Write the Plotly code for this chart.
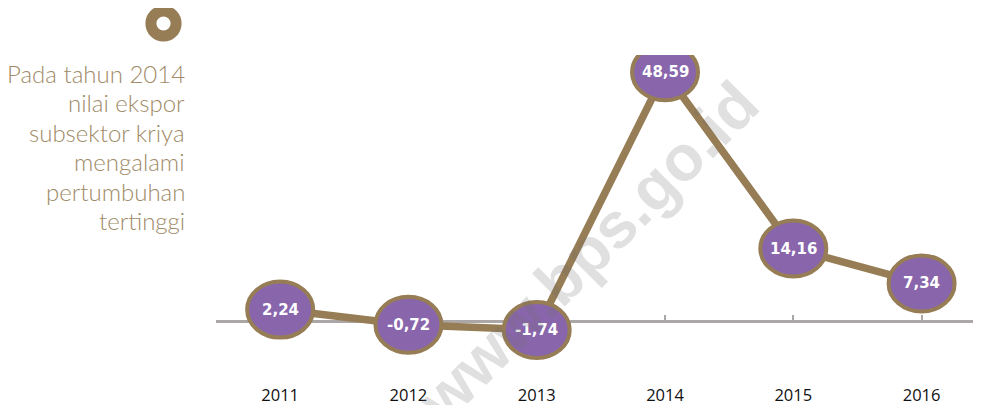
import plotly.graph_objects as go

# ---- data ----
years = ["2011", "2012", "2013", "2014", "2015", "2016"]
growth = [2.24, -0.72, -1.74, 48.59, 14.16, 7.34]
note_lines = ["Pada tahun 2014", "nilai ekspor", "subsektor kriya",
              "mengalami", "pertumbuhan", "tertinggi"]
watermark = "www.bps.go.id"

# ---- style / layout constants ----
OFF = 8                      # default page body margin
W, H = 981 - OFF, 405 - OFF  # figure fits the window
# desired plot area in window pixels
PL, PR, PT, PB = 216, 981, 55, 383
ML, MR, MT, MB = PL - OFF, W - (PR - OFF), PT - OFF, H - (PB - OFF)

BROWN = "#967D55"
PURPLE = "#8966AC"
GRAY = "#ABA7A7"
TEXT_BROWN = "#A08A67"

idx = list(range(len(years)))
x_range = [-0.5, 5.463]
y_range = [-12.1, 51.95]

plot_w = PR - PL
plot_h = PB - PT
px_per_x = plot_w / (x_range[1] - x_range[0])
px_per_y = plot_h / (y_range[1] - y_range[0])


def paper_x(px):
    return (px - PL) / plot_w


def paper_y(py):
    return (PB - py) / plot_h


fig = go.Figure()

# main brown line
fig.add_trace(go.Scatter(
    x=idx, y=growth, mode="lines",
    line=dict(color=BROWN, width=7.5),
    hoverinfo="skip", showlegend=False,
))
# invisible trace to activate the zero-line axis with ticks
fig.add_trace(go.Scatter(
    x=idx, y=growth, xaxis="x2", mode="lines",
    line=dict(width=0, color="rgba(0,0,0,0)"),
    hoverinfo="skip", showlegend=False,
))

shapes = []
annotations = []

# ellipse markers (outer ~70x60 px incl. border)
hx = 33 / px_per_x
hy = 28 / px_per_y
for i, v in zip(idx, growth):
    shapes.append(dict(
        type="circle", xref="x", yref="y",
        x0=i - hx, x1=i + hx, y0=v - hy, y1=v + hy,
        fillcolor=PURPLE, line=dict(color=BROWN, width=4), layer="above",
    ))
    annotations.append(dict(
        x=i, y=v, xref="x", yref="y", showarrow=False,
        text=f"{v:.2f}".replace(".", ","),
        font=dict(family="DejaVu Sans", size=15, color="white", weight="bold"),
        xanchor="center", yanchor="middle",
    ))

# ring icon
cx, cy, r = 163.5, 23.5, 12.6
shapes.append(dict(
    type="circle", xref="paper", yref="paper",
    x0=paper_x(cx - r), x1=paper_x(cx + r),
    y0=paper_y(cy + r), y1=paper_y(cy - r),
    fillcolor="white", line=dict(color=BROWN, width=11), layer="above",
))

# side note, one line each
line_y0, line_step = 73.5, 29.4
for k, t in enumerate(note_lines):
    annotations.append(dict(
        x=paper_x(187), y=paper_y(line_y0 + k * line_step),
        xref="paper", yref="paper",
        text=t, showarrow=False,
        align="right", xanchor="right", yanchor="middle",
        font=dict(family="Lato", size=24, color=TEXT_BROWN, weight=300),
    ))

# watermark
annotations.append(dict(
    x=paper_x(588), y=paper_y(252), xref="paper", yref="paper",
    text=watermark, showarrow=False, textangle=-45,
    font=dict(family="Liberation Sans", size=64, color="rgba(110,110,110,0.21)",
              weight="bold"),
    xanchor="center", yanchor="middle",
))

zero_pos = (0 - y_range[0]) / (y_range[1] - y_range[0])

fig.update_layout(
    width=W, height=H,
    margin=dict(l=ML, r=MR, t=MT, b=MB, autoexpand=False),
    paper_bgcolor="white", plot_bgcolor="white",
    showlegend=False,
    xaxis=dict(
        range=x_range, tickmode="array", tickvals=idx, ticktext=years,
        showgrid=False, zeroline=False, showline=False, ticks="",
        tickfont=dict(family="Open Sans", size=16.5, color="#111111"),
        fixedrange=True,
    ),
    xaxis2=dict(
        range=x_range, overlaying="x", anchor="free", position=zero_pos,
        tickmode="array", tickvals=idx, showticklabels=False,
        showgrid=False, zeroline=False,
        showline=True, linecolor=GRAY, linewidth=3,
        ticks="inside", ticklen=5, tickwidth=1.5, tickcolor=GRAY,
        layer="below traces", fixedrange=True,
    ),
    yaxis=dict(
        range=y_range, showgrid=False, zeroline=False, showline=False,
        showticklabels=False, ticks="", fixedrange=True,
    ),
    shapes=shapes,
    annotations=annotations,
)

fig.write_html("out.html")
